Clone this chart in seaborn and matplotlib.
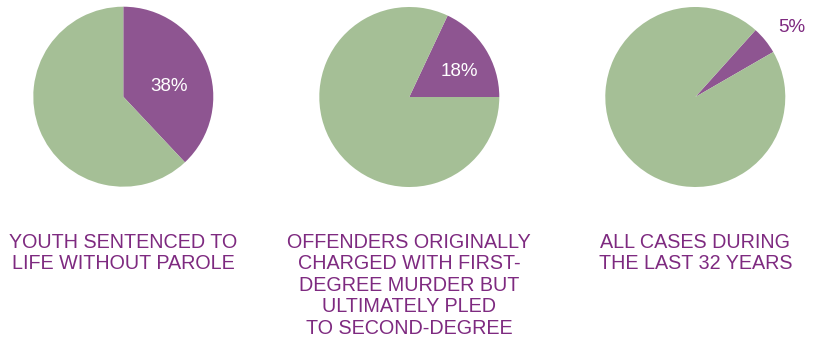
import numpy as np
import matplotlib
matplotlib.use("Agg")
import matplotlib.pyplot as plt
import seaborn as sns

# ---- data ----
captions = [
    "YOUTH SENTENCED TO\nLIFE WITHOUT PAROLE",
    "OFFENDERS ORIGINALLY\nCHARGED WITH FIRST-\nDEGREE MURDER BUT\nULTIMATELY PLED\nTO SECOND-DEGREE",
    "ALL CASES DURING\nTHE LAST 32 YEARS",
]
shares = [38, 18, 5]
pct_labels = ["38%", "18%", "5%"]

# ---- style ----
sns.set_theme(style="white")
plt.rcParams["font.family"] = ["Liberation Sans", "DejaVu Sans"]

GREEN = "#a5bf96"
PURPLE = "#8e5591"
TEXT_PURPLE = "#7e2a80"

W, H = 819, 340
fig = plt.figure(figsize=(W / 100, H / 100), dpi=100)
fig.patch.set_facecolor("white")

centers_px = [(123.3, 96.7), (409.3, 97.0), (695.3, 97.0)]
radius_px = 90
starts = [90, 0, 30]
counter = [False, True, True]
label_r = [0.52, 0.62, 1.32]
label_shift = [-8.6, -5.4, -3.4]
label_colors = ["white", "white", TEXT_PURPLE]

for i, (cx, cy) in enumerate(centers_px):
    ax = fig.add_axes([(cx - radius_px) / W, (H - cy - radius_px) / H,
                       2 * radius_px / W, 2 * radius_px / H])
    wedges, _ = ax.pie([shares[i], 100 - shares[i]], colors=[PURPLE, GREEN],
                       startangle=starts[i], counterclock=counter[i],
                       wedgeprops=dict(linewidth=0), radius=1)
    ax.set_xlim(-1, 1)
    ax.set_ylim(-1, 1)
    ax.set_aspect("equal")
    ax.axis("off")
    w = wedges[0]
    mid = np.deg2rad((w.theta1 + w.theta2) / 2 + label_shift[i])
    ax.text(label_r[i] * np.cos(mid), label_r[i] * np.sin(mid), pct_labels[i],
            ha="center", va="center", fontsize=13.5, color=label_colors[i],
            clip_on=False)
    fig.text(cx / W, (H - 233) / H, captions[i], ha="center", va="top",
             multialignment="center", fontsize=14.2, color=TEXT_PURPLE,
             linespacing=1.16)

fig.savefig("out.png", dpi=100, facecolor="white")
